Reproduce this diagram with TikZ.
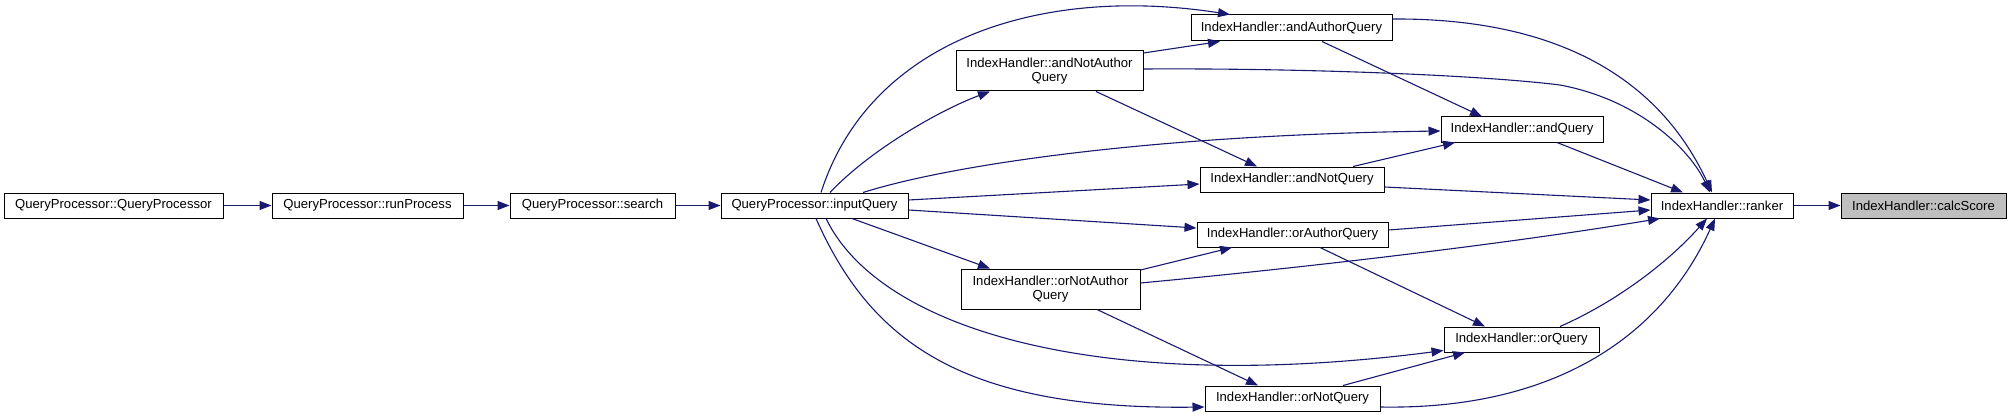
\documentclass[tikz,border=0pt]{standalone}
\usepackage{fontspec}
\setmainfont{Liberation Sans}
\usetikzlibrary{arrows.meta}
\definecolor{edgeblue}{RGB}{25,25,112}
\definecolor{focusgray}{RGB}{191,191,191}
\tikzset{
  fn/.style={draw=black, line width=1pt, fill=white, rectangle, inner sep=0pt, align=center,
    font=\fontsize{13.1}{14}\selectfont},
  focus/.style={fn, fill=focusgray},
  call/.style={draw=edgeblue, line width=1.1pt, -{Triangle[length=12pt,width=9pt]}},
}
\begin{document}
\begin{tikzpicture}[x=1pt,y=-1pt]
\useasboundingbox (0,0) rectangle (2012,417);
% nodes
\node[fn, minimum width=219pt, minimum height=25pt] (QP) at (113.5,205.5) {QueryProcessor::QueryProcessor};
\node[fn, minimum width=191pt, minimum height=25pt] (RP) at (367.5,205.5) {QueryProcessor::runProcess};
\node[fn, minimum width=165pt, minimum height=25pt] (SE) at (592.5,205.5) {QueryProcessor::search};
\node[fn, minimum width=187pt, minimum height=25pt] (IQ) at (814.5,205.5) {QueryProcessor::inputQuery};
\node[fn, minimum width=201pt, minimum height=26pt] (AAQ) at (1291.5,28) {IndexHandler::andAuthorQuery};
\node[fn, minimum width=187pt, minimum height=40pt] (ANAQ) at (1049.5,71) {IndexHandler::andNotAuthor\\Query};
\node[fn, minimum width=162pt, minimum height=25pt] (AQ) at (1522,129.5) {IndexHandler::andQuery};
\node[fn, minimum width=184pt, minimum height=25pt] (ANQ) at (1292,179.5) {IndexHandler::andNotQuery};
\node[fn, minimum width=142pt, minimum height=25pt] (RK) at (1722,205.5) {IndexHandler::ranker};
\node[focus, minimum width=165pt, minimum height=25pt] (CS) at (1923.5,205.5) {IndexHandler::calcScore};
\node[fn, minimum width=191pt, minimum height=25pt] (OAQ) at (1292.5,234.5) {IndexHandler::orAuthorQuery};
\node[fn, minimum width=179pt, minimum height=40pt] (ONAQ) at (1050.5,289) {IndexHandler::orNotAuthor\\Query};
\node[fn, minimum width=155pt, minimum height=25pt] (OQ) at (1521.5,339.5) {IndexHandler::orQuery};
\node[fn, minimum width=175pt, minimum height=25pt] (ONQ) at (1292.5,398.5) {IndexHandler::orNotQuery};
% chain
\draw[call] (QP.east) -- (RP.west);
\draw[call] (RP.east) -- (SE.west);
\draw[call] (SE.east) -- (IQ.west);
\draw[call] (RK.east) -- (CS.west);
% from inputQuery
\draw[call] ([xshift=6.5pt]IQ.north) .. controls (870,40) and (1040,-15) .. ([xshift=-61.5pt]AAQ.north);
\draw[call] ([xshift=15.5pt]IQ.north) .. controls (870,150) and (940,110) .. ([xshift=-59.5pt]ANAQ.south);
\draw[call] ([xshift=48.5pt]IQ.north) .. controls (950,165) and (1150,135) .. ([yshift=-1.5pt]AQ.west);
\draw[call] ([yshift=5.5pt]IQ.east) -- ([yshift=-4.5pt]ANQ.west);
\draw[call] ([yshift=-4.5pt]IQ.east) -- ([yshift=6.5pt]OAQ.west);
\draw[call] ([xshift=37.5pt]IQ.south) -- ([xshift=-60.5pt]ONAQ.north);
\draw[call] ([xshift=11.5pt]IQ.south) .. controls (880,330) and (1100,395) .. ([yshift=2pt]OQ.south west);
\draw[call] ([xshift=1.5pt]IQ.south) .. controls (870,340) and (960,410) .. ([yshift=-8.5pt]ONQ.west);
% middle layer
\draw[call] ([yshift=18pt]ANAQ.east) -- ([xshift=-71.5pt]AAQ.south);
\draw[call] ([xshift=46.5pt]ANAQ.south) -- ([xshift=-35pt]ANQ.north);
\draw[call] ([xshift=30.5pt]AAQ.south) -- ([xshift=-40pt]AQ.north);
\draw[call] ([xshift=61pt]ANQ.north) -- ([xshift=-67pt]AQ.south);
\draw[call] ([yshift=19pt]ONAQ.east) -- ([xshift=-60.5pt]OAQ.south);
\draw[call] ([xshift=27.5pt]OAQ.south) -- ([xshift=-36.5pt]OQ.north);
\draw[call] ([xshift=46.5pt]ONAQ.south) -- ([xshift=-34.5pt]ONQ.north);
\draw[call] ([xshift=50.5pt]ONQ.north) -- ([xshift=-56.5pt]OQ.south);
% into ranker
\draw[call] ([yshift=9pt]AAQ.east) .. controls (1560,18) and (1660,80) .. ([xshift=-10pt]RK.north);
\draw[call] ([yshift=2pt]ANAQ.east) .. controls (1300,68) and (1480,75) .. (1560,85) .. controls (1640,100) and (1690,150) .. ([xshift=-12pt]RK.north);
\draw[call] ([xshift=35pt]AQ.south) -- ([xshift=-39pt]RK.north);
\draw[call] ([yshift=-7.5pt]ANQ.east) -- ([yshift=5.5pt]RK.west);
\draw[call] ([yshift=4.5pt]OAQ.east) -- ([yshift=-4.5pt]RK.west);
\draw[call] ([yshift=6pt]ONAQ.east) .. controls (1300,268) and (1500,245) .. ([xshift=-62pt]RK.south);
\draw[call] ([xshift=38.5pt]OQ.north) .. controls (1620,300) and (1670,260) .. ([xshift=-15pt]RK.south);
\draw[call] ([yshift=-8.5pt]ONQ.east) .. controls (1550,410) and (1660,340) .. ([xshift=-7pt]RK.south);
\end{tikzpicture}
\end{document}
